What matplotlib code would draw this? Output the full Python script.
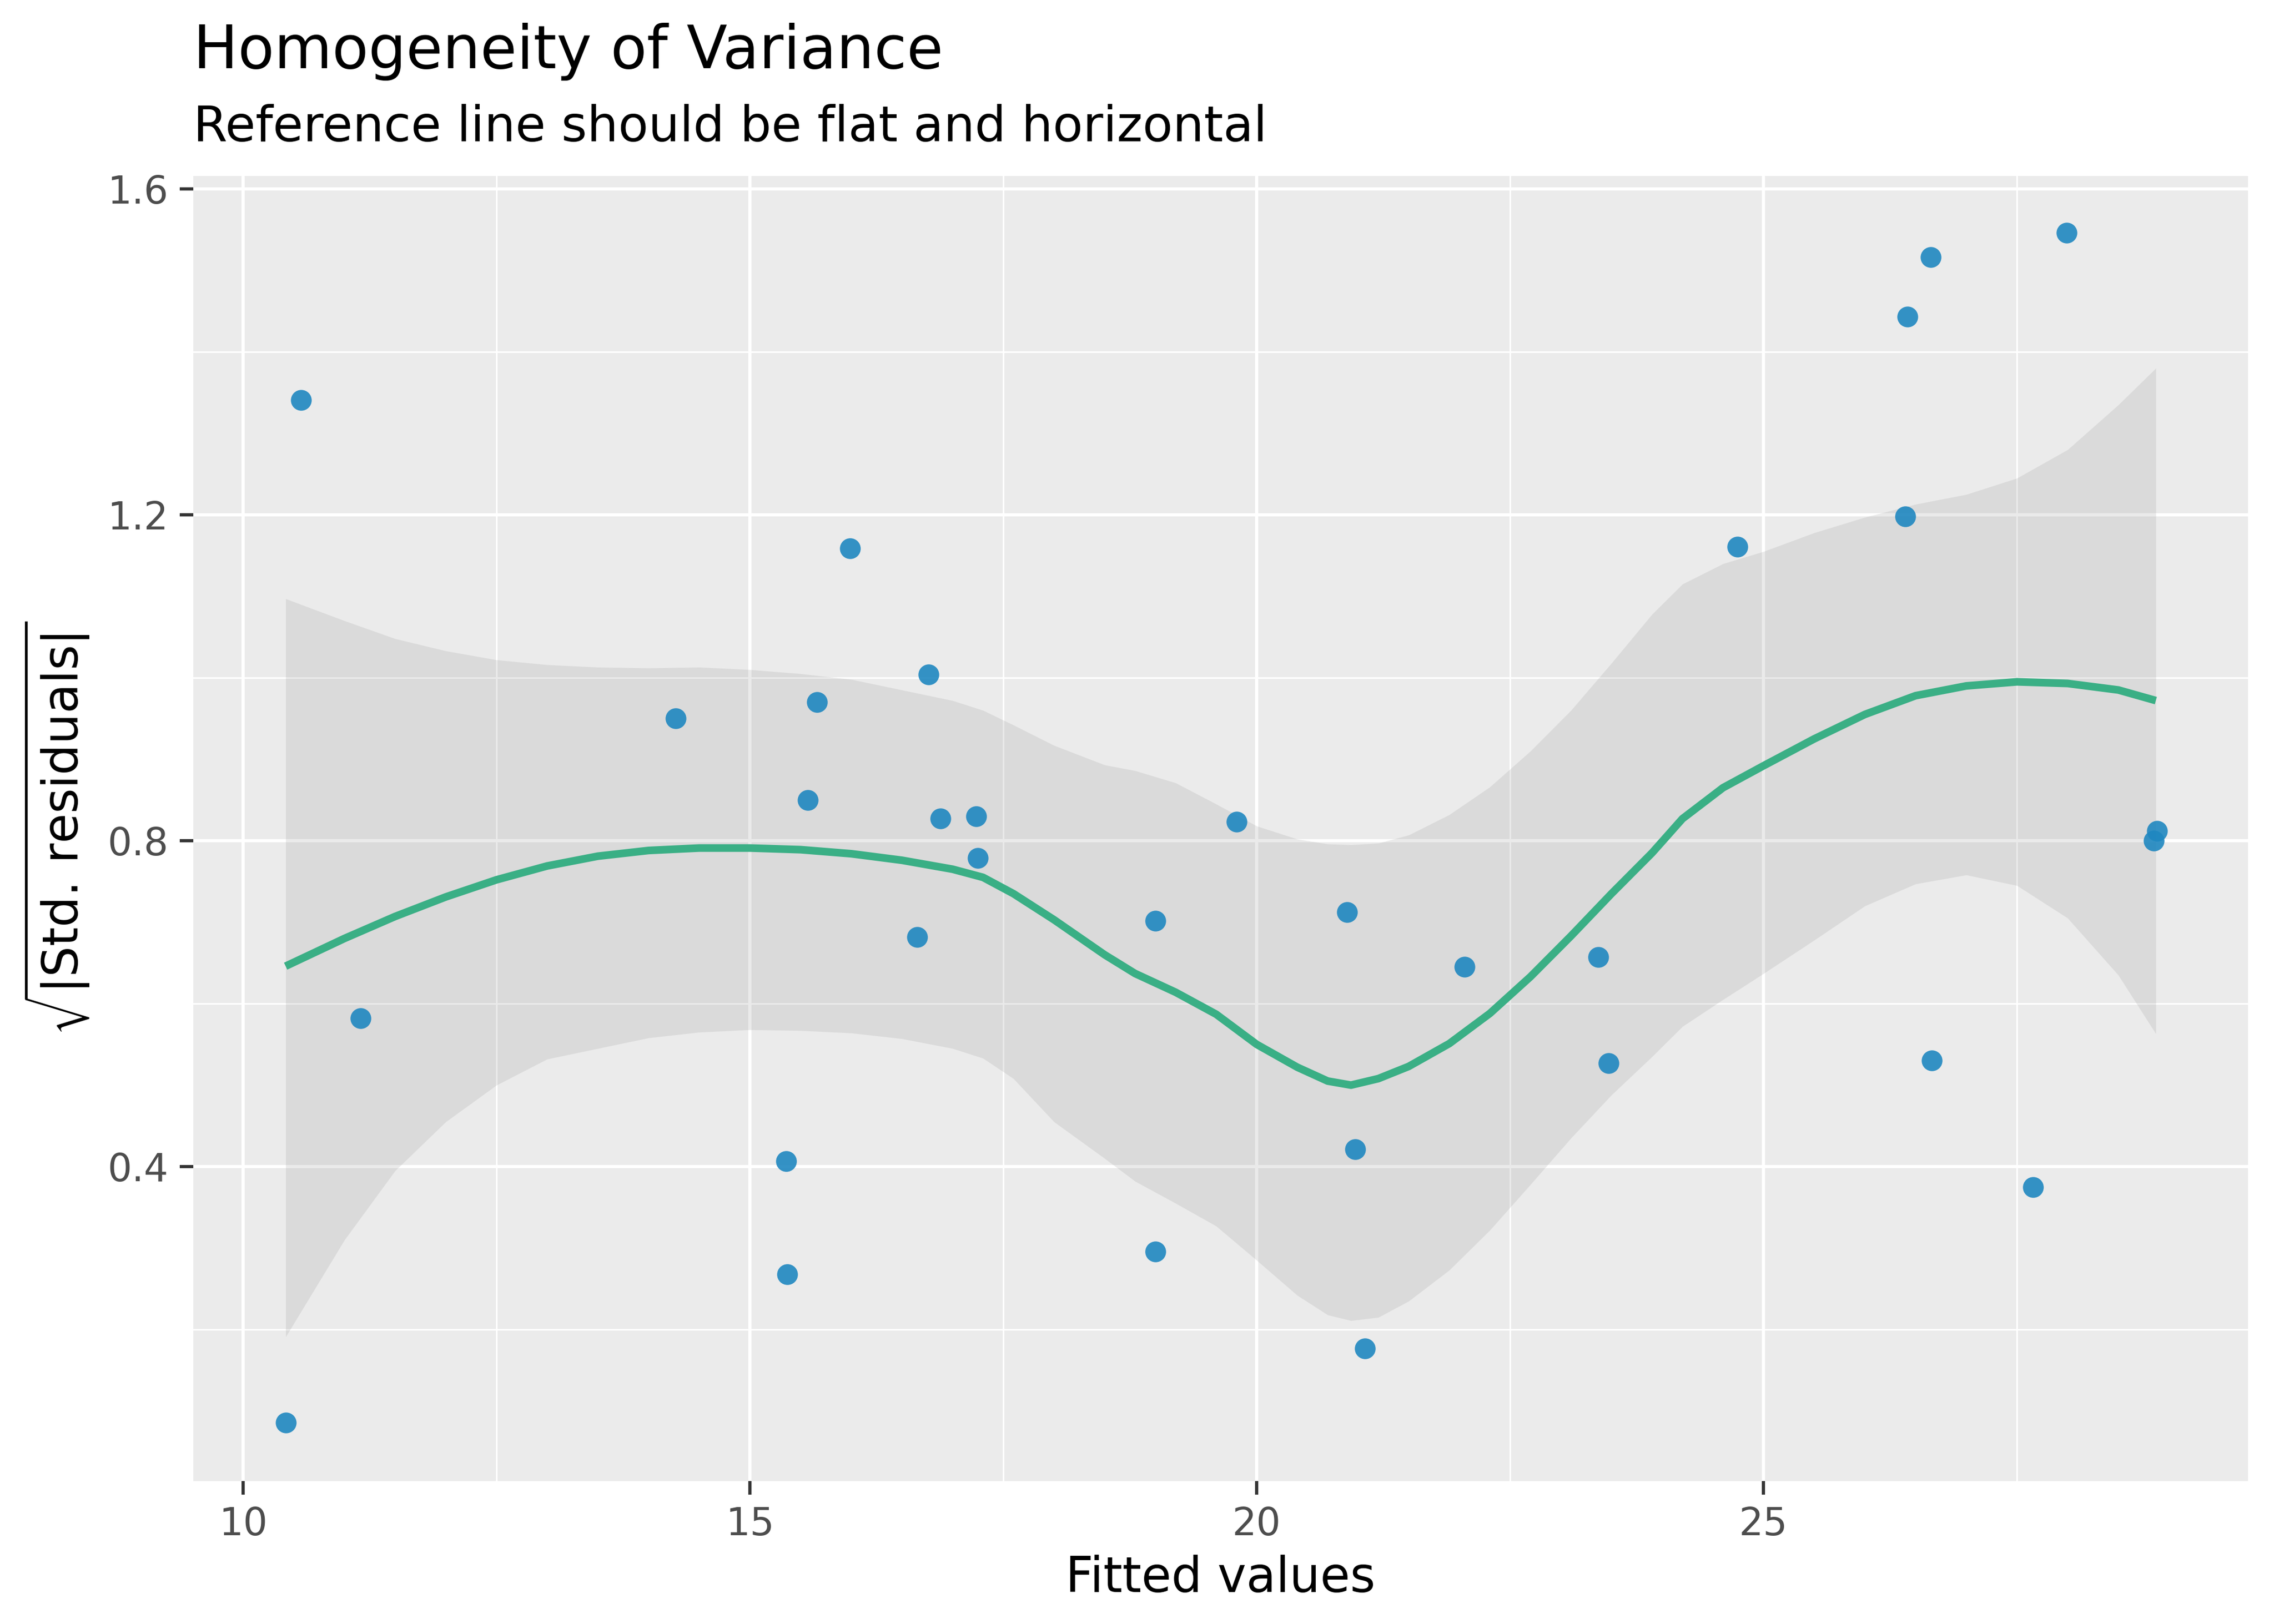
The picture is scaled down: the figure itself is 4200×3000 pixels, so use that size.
import numpy as np
import matplotlib.pyplot as plt
from matplotlib.ticker import MultipleLocator

# fitted values vs sqrt(|std. residuals|)
fitted = [10.42, 10.57, 11.16, 14.27, 15.99, 15.66, 15.57, 15.36, 15.37, 16.76,
          16.88, 17.23, 17.25, 16.65, 19.00, 19.00, 19.80, 20.89, 20.97, 21.07,
          22.05, 23.37, 23.47, 24.74, 26.42, 26.65, 26.40, 26.66, 27.99, 27.66,
          28.85, 28.88]
sqrt_res = [0.086, 1.341, 0.582, 0.950, 1.159, 0.970, 0.850, 0.407, 0.268, 1.004,
            0.827, 0.830, 0.779, 0.682, 0.702, 0.296, 0.823, 0.712, 0.421, 0.177,
            0.645, 0.657, 0.527, 1.161, 1.443, 1.516, 1.198, 0.530, 1.546, 0.375,
            0.800, 0.812]

# loess line and its confidence band
smooth_x = [10.42, 11.0, 11.5, 12.0, 12.5, 13.0, 13.5, 14.0, 14.5, 15.0, 15.5,
            16.0, 16.5, 17.0, 17.3, 17.6, 18.0, 18.5, 18.8, 19.2, 19.6, 20.0,
            20.4, 20.7, 20.93, 21.2, 21.5, 21.9, 22.3, 22.7, 23.1, 23.5, 23.9,
            24.2, 24.6, 25.0, 25.5, 26.0, 26.5, 27.0, 27.5, 28.0, 28.5, 28.87]
smooth_y = [0.646, 0.680, 0.707, 0.731, 0.752, 0.769, 0.781, 0.788, 0.791, 0.791,
            0.789, 0.784, 0.776, 0.765, 0.755, 0.735, 0.703, 0.660, 0.637, 0.614,
            0.587, 0.550, 0.522, 0.505, 0.500, 0.508, 0.523, 0.551, 0.588, 0.633,
            0.683, 0.735, 0.785, 0.827, 0.865, 0.892, 0.925, 0.955, 0.978, 0.990,
            0.995, 0.993, 0.985, 0.972]
band_hi = [1.097, 1.070, 1.048, 1.033, 1.022, 1.016, 1.013, 1.012, 1.013, 1.010,
           1.005, 0.998, 0.985, 0.972, 0.960, 0.942, 0.917, 0.893, 0.886, 0.871,
           0.845, 0.818, 0.802, 0.796, 0.795, 0.797, 0.807, 0.832, 0.866, 0.910,
           0.960, 1.018, 1.078, 1.115, 1.140, 1.155, 1.178, 1.197, 1.213, 1.225,
           1.245, 1.280, 1.335, 1.380]
band_lo = [0.191, 0.310, 0.395, 0.455, 0.500, 0.532, 0.545, 0.558, 0.565, 0.568,
           0.567, 0.564, 0.557, 0.545, 0.533, 0.508, 0.455, 0.410, 0.382, 0.355,
           0.327, 0.285, 0.242, 0.218, 0.211, 0.215, 0.235, 0.273, 0.322, 0.378,
           0.435, 0.488, 0.535, 0.572, 0.605, 0.637, 0.678, 0.720, 0.747, 0.758,
           0.745, 0.705, 0.635, 0.563]

plt.rcParams['font.family'] = ['DejaVu Sans']
plt.rcParams['mathtext.fontset'] = 'dejavusans'

fig = plt.figure(figsize=(14, 10), dpi=300)
ax = fig.add_axes([0.085, 0.088, 0.9036, 0.8037])
ax.set_facecolor('#EBEBEB')

ax.fill_between(smooth_x, band_lo, band_hi, color='#999999', alpha=0.2, lw=0, zorder=2)
ax.plot(smooth_x, smooth_y, color='#3AAF85', lw=3.4, zorder=3,
        solid_capstyle='butt', solid_joinstyle='round')
ax.scatter(fitted, sqrt_res, s=85, color='#1F87C0', alpha=0.9, lw=0, zorder=4)

ax.set_xlim(9.509, 29.78)
ax.set_ylim(0.014, 1.616)
ax.xaxis.set_major_locator(MultipleLocator(5))
ax.xaxis.set_minor_locator(MultipleLocator(2.5))
ax.yaxis.set_minor_locator(MultipleLocator(0.2))
ax.set_yticks([0.4, 0.8, 1.2, 1.6])
ax.set_yticklabels(['0.4', '0.8', '1.2', '1.6'])

ax.grid(which='major', color='white', lw=1.4, zorder=0)
ax.grid(which='minor', color='white', lw=0.7, zorder=0)
ax.set_axisbelow(True)
for s in ax.spines.values():
    s.set_visible(False)
ax.tick_params(which='major', length=6, width=1.4, color='#333333',
               labelsize=17, labelcolor='#4D4D4D', pad=5)
ax.tick_params(which='minor', length=0)

ax.set_xlabel('Fitted values', fontsize=21.5, labelpad=5)
ax.set_ylabel(r'$\sqrt{|\mathrm{Std.}\,\mathrm{residuals}|}$', fontsize=21.5, labelpad=7)

fig.text(0.085, 0.958, 'Homogeneity of Variance', fontsize=26.3, ha='left', va='baseline')
fig.text(0.085, 0.913, 'Reference line should be flat and horizontal', fontsize=21.8,
         ha='left', va='baseline')

fig.savefig('out.png', dpi=300)
